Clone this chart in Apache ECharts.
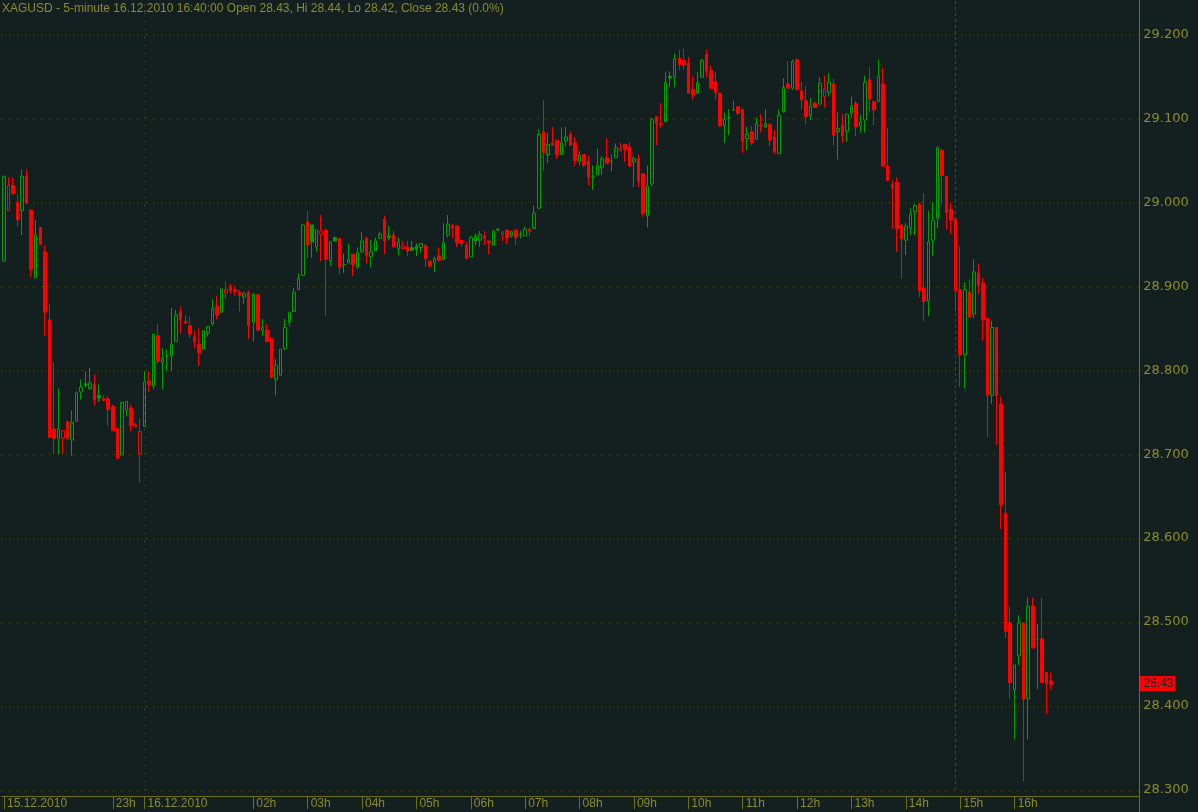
<!DOCTYPE html>
<html><head><meta charset="utf-8">
<script src="https://cdn.jsdelivr.net/npm/echarts@6/dist/echarts.min.js"></script>
<style>html,body{margin:0;padding:0;background:#141f1f;overflow:hidden;width:1198px;height:812px;position:relative}#c{position:absolute;left:0;top:-56px;width:1198px;height:868px}</style>
</head><body><div id="c"></div>
<script>
// 5-minute candles, XAGUSD 15.12.2010 21:00 -> 16.12.2010 16:40
const openP = [28.930,28.990,29.020,29.000,28.990,29.031,28.991,28.910,28.970,28.941,
28.860,28.730,28.719,28.719,28.739,28.717,28.739,28.774,28.784,28.778,
28.783,28.770,28.766,28.766,28.757,28.731,28.699,28.752,28.755,28.735,
28.700,28.733,28.787,28.781,28.841,28.809,28.817,28.817,28.834,28.870,
28.858,28.853,28.840,28.831,28.825,28.844,28.855,28.876,28.869,28.892,
28.900,28.896,28.893,28.887,28.893,28.857,28.890,28.847,28.848,28.838,
28.789,28.794,28.826,28.857,28.870,28.896,28.913,28.977,28.973,28.947,
28.962,28.967,28.930,28.958,28.957,28.926,28.928,28.938,28.922,28.941,
28.957,28.935,28.942,28.957,28.980,28.960,28.961,28.945,28.945,28.947,
28.946,28.948,28.946,28.949,28.930,28.928,28.936,28.932,28.961,28.972,
28.972,28.955,28.949,28.935,28.954,28.955,28.960,28.954,28.949,28.968,
28.961,28.967,28.960,28.967,28.961,28.960,28.968,28.969,28.993,29.084,
29.057,29.071,29.074,29.057,29.073,29.081,29.071,29.049,29.057,29.049,
29.031,29.033,29.042,29.053,29.049,29.053,29.061,29.069,29.066,29.048,
29.052,29.034,28.984,29.022,29.102,29.094,29.096,29.150,29.149,29.172,
29.169,29.166,29.134,29.130,29.149,29.176,29.157,29.144,29.130,29.091,
29.101,29.110,29.114,29.111,29.076,29.084,29.075,29.092,29.090,29.093,
29.078,29.058,29.108,29.141,29.136,29.170,29.133,29.121,29.103,29.118,
29.117,29.126,29.131,29.141,29.084,29.092,29.085,29.107,29.118,29.091,
29.098,29.146,29.120,29.120,29.141,29.043,29.021,29.024,28.973,28.955,
28.969,28.989,28.998,28.898,28.882,28.955,28.981,29.062,29.031,28.992,
28.980,28.896,28.819,28.893,28.867,28.916,28.904,28.862,28.770,28.851,
28.760,28.630,28.499,28.419,28.460,28.499,28.409,28.519,28.480,28.480,
28.440,28.430];
const highP = [29.031,29.030,29.030,29.010,29.039,29.039,28.991,28.979,28.970,28.949,
28.879,28.809,28.779,28.728,28.739,28.752,28.775,28.789,28.799,28.803,
28.795,28.783,28.770,28.769,28.759,28.731,28.762,28.763,28.759,28.737,
28.742,28.799,28.799,28.843,28.855,28.826,28.825,28.874,28.872,28.876,
28.866,28.864,28.847,28.850,28.848,28.852,28.885,28.889,28.897,28.906,
28.903,28.900,28.896,28.894,28.895,28.891,28.890,28.861,28.855,28.838,
28.813,28.825,28.861,28.869,28.898,28.915,28.974,28.990,28.973,28.967,
28.985,28.967,28.954,28.959,28.957,28.939,28.951,28.938,28.946,28.965,
28.959,28.955,28.958,28.965,28.984,28.972,28.966,28.958,28.954,28.954,
28.954,28.951,28.951,28.949,28.930,28.935,28.946,28.975,28.985,28.974,
28.972,28.955,28.953,28.960,28.963,28.966,28.966,28.954,28.967,28.969,
28.965,28.967,28.965,28.967,28.966,28.971,28.970,28.996,29.087,29.122,
29.083,29.090,29.074,29.089,29.090,29.085,29.078,29.061,29.057,29.056,
29.044,29.064,29.055,29.077,29.057,29.070,29.071,29.069,29.072,29.055,
29.057,29.034,29.044,29.100,29.103,29.118,29.155,29.156,29.177,29.182,
29.183,29.173,29.150,29.155,29.171,29.182,29.163,29.155,29.130,29.107,
29.111,29.121,29.114,29.111,29.090,29.091,29.101,29.105,29.111,29.093,
29.086,29.111,29.148,29.168,29.170,29.171,29.143,29.138,29.124,29.120,
29.149,29.151,29.154,29.147,29.107,29.105,29.105,29.126,29.121,29.104,
29.151,29.161,29.120,29.170,29.160,29.089,29.026,29.030,28.974,28.975,
28.993,28.998,29.000,29.011,28.990,29.000,29.067,29.064,29.031,29.000,
28.980,28.948,28.905,28.908,28.932,28.927,28.910,28.862,28.859,28.851,
28.769,28.679,28.518,28.449,28.508,28.499,28.529,28.529,28.498,28.529,
28.440,28.440];
const lowP = [28.930,28.990,29.010,28.971,28.961,28.999,28.911,28.910,28.950,28.841,
28.719,28.700,28.700,28.700,28.717,28.698,28.739,28.765,28.779,28.778,
28.758,28.762,28.763,28.734,28.728,28.695,28.699,28.745,28.727,28.733,
28.666,28.733,28.774,28.777,28.808,28.777,28.799,28.799,28.834,28.844,
28.856,28.838,28.826,28.805,28.825,28.840,28.853,28.861,28.869,28.885,
28.891,28.889,28.870,28.879,28.837,28.834,28.846,28.841,28.834,28.791,
28.770,28.794,28.824,28.852,28.870,28.896,28.913,28.933,28.934,28.942,
28.930,28.865,28.924,28.953,28.914,28.916,28.928,28.912,28.922,28.941,
28.927,28.922,28.942,28.957,28.938,28.955,28.947,28.937,28.945,28.936,
28.942,28.936,28.940,28.923,28.922,28.917,28.929,28.932,28.958,28.957,
28.947,28.947,28.933,28.935,28.949,28.947,28.949,28.938,28.949,28.966,
28.954,28.950,28.958,28.949,28.957,28.960,28.960,28.969,28.993,29.037,
29.047,29.068,29.052,29.057,29.067,29.068,29.043,29.044,29.042,29.020,
29.015,29.033,29.033,29.046,29.037,29.053,29.061,29.048,29.043,29.018,
29.018,28.983,28.970,29.019,29.068,29.089,29.096,29.137,29.137,29.157,
29.158,29.130,29.122,29.129,29.148,29.149,29.135,29.122,29.090,29.071,
29.080,29.109,29.104,29.059,29.062,29.068,29.075,29.083,29.089,29.067,
29.057,29.058,29.107,29.136,29.134,29.134,29.111,29.093,29.098,29.113,
29.117,29.113,29.126,29.068,29.051,29.071,29.072,29.101,29.079,29.083,
29.083,29.107,29.092,29.120,29.043,29.026,28.968,28.941,28.909,28.937,
28.961,28.961,28.887,28.858,28.864,28.936,28.969,28.997,28.968,28.962,
28.870,28.780,28.778,28.863,28.862,28.891,28.835,28.720,28.760,28.711,
28.611,28.481,28.409,28.360,28.449,28.310,28.360,28.469,28.420,28.428,
28.390,28.420];
const closeP = [29.031,29.020,29.010,28.979,29.031,28.999,28.920,28.961,28.950,28.869,
28.720,28.719,28.730,28.728,28.719,28.738,28.773,28.780,28.782,28.785,
28.765,28.767,28.764,28.753,28.728,28.695,28.762,28.763,28.734,28.733,
28.727,28.786,28.783,28.843,28.811,28.814,28.817,28.831,28.866,28.860,
28.856,28.843,28.834,28.821,28.847,28.852,28.873,28.866,28.897,28.896,
28.895,28.894,28.889,28.891,28.853,28.891,28.848,28.851,28.834,28.791,
28.806,28.825,28.851,28.869,28.893,28.909,28.973,28.949,28.953,28.967,
28.966,28.932,28.953,28.954,28.923,28.926,28.932,28.926,28.940,28.954,
28.937,28.941,28.954,28.962,28.954,28.958,28.947,28.953,28.948,28.942,
28.943,28.944,28.951,28.933,28.924,28.933,28.931,28.952,28.974,28.969,
28.952,28.951,28.933,28.958,28.960,28.962,28.957,28.952,28.966,28.967,
28.965,28.958,28.965,28.958,28.961,28.968,28.966,28.987,29.081,29.059,
29.069,29.068,29.057,29.071,29.078,29.068,29.050,29.056,29.044,29.030,
29.031,29.044,29.052,29.046,29.049,29.065,29.064,29.063,29.043,29.052,
29.025,28.987,29.019,29.099,29.094,29.093,29.143,29.148,29.171,29.164,
29.163,29.130,29.128,29.143,29.169,29.156,29.136,29.131,29.091,29.099,
29.101,29.110,29.106,29.073,29.081,29.071,29.094,29.091,29.094,29.074,
29.060,29.104,29.137,29.136,29.168,29.134,29.122,29.102,29.115,29.113,
29.142,29.135,29.143,29.080,29.088,29.079,29.105,29.115,29.090,29.095,
29.143,29.123,29.110,29.150,29.043,29.026,29.017,28.969,28.957,28.972,
28.986,28.996,28.895,28.882,28.953,28.978,29.065,29.032,28.988,28.979,
28.895,28.818,28.896,28.863,28.917,28.901,28.860,28.770,28.851,28.770,
28.640,28.489,28.428,28.449,28.499,28.408,28.519,28.469,28.480,28.428,
28.427,28.426];

// time-axis tick labels (category index -> text)
const tickIdx  = [0, 24, 31, 55, 67, 79, 91, 103, 115, 127, 139, 151, 163, 175, 187, 199, 211, 223];
const tickText = ['15.12.2010','23h','16.12.2010','02h','03h','04h','05h','06h','07h','08h','09h','10h','11h','12h','13h','14h','15h','16h'];
const dayStartIdx = 31;   // dotted day separator
const markerIdx = 210;    // red dashed marker
const yTicks = [28.3, 29.3, 0.1]; // min, max, step
const titleText = 'XAGUSD - 5-minute 16.12.2010 16:40:00 Open 28.43, Hi 28.44, Lo 28.42, Close 28.43 (0.0%)';
const lastLabel = '28.43';

const BG = '#141f1f', GREEN = '#00a000', RED = '#ff0000', OLIVE = '#8c8c2c', GRID = '#5e5e00', AXIS = '#6e6e14';
const SLOTS = 251;
const SHIFT = 56; // chart canvas starts 56px above the page

const cats = [];
for (let i = 0; i < SLOTS; i++) {
  const m = i < 31 ? 21 * 60 + 5 * i : 5 * (i - 31);
  const h = Math.floor(m / 60) % 24, mm = m % 60;
  cats.push((h < 10 ? '0' : '') + h + ':' + (mm < 10 ? '0' : '') + mm + '#' + i);
}
const tickMap = {};
tickIdx.forEach((k, j) => tickMap[k] = tickText[j]);

const data = openP.map((o, i) => {
  const c = closeP[i];
  const prev = i > 0 ? closeP[i - 1] : o;
  const col = c >= prev ? GREEN : RED;
  const fill = c > o ? BG : col;
  return {value: [o, c, lowP[i], highP[i]],
          itemStyle: {color: fill, color0: fill, borderColor: col, borderColor0: col, borderWidth: 1}};
});

const chart = echarts.init(document.getElementById('c'), null, {renderer: 'canvas'});
const GL = 1.73, GW = 4.532 * SLOTS, GT = 0.23, GH = 845.7;
const AXX = Math.round(GL + GW) + 0.5;
chart.setOption({
  backgroundColor: BG,
  animation: false,
  title: {text: titleText, left: 2, top: SHIFT + 3, padding: 0,
    textStyle: {color: OLIVE, fontSize: 12, fontWeight: 'normal', fontFamily: 'Liberation Sans'}},
  grid: {left: GL, top: GT, width: GW, height: GH, containLabel: false},
  xAxis: {
    type: 'category', data: cats, boundaryGap: true, offset: 6,
    axisLine: {show: true, lineStyle: {color: AXIS, width: 1}},
    axisTick: {show: true, alignWithLabel: true, length: 13,
      interval: (idx) => tickMap[idx] !== undefined, lineStyle: {color: AXIS}},
    axisLabel: {show: true, interval: (idx) => tickMap[idx] !== undefined,
      formatter: (v, idx) => tickMap[idx] || '', align: 'left', padding: [0, 0, 0, 3],
      margin: 2, color: OLIVE, fontSize: 12, fontFamily: 'Liberation Sans'},
    splitLine: {show: false}
  },
  yAxis: {
    type: 'value', position: 'right', min: yTicks[0], max: yTicks[1], interval: yTicks[2],
    axisLine: {show: false}, axisTick: {show: false},
    axisLabel: {formatter: (v) => v.toFixed(3), color: OLIVE, fontSize: 13, margin: 4,
      fontFamily: 'DejaVu Sans'},
    splitLine: {show: true, lineStyle: {color: GRID, type: [1, 7], width: 1}}
  },
  series: [{
    type: 'candlestick', data: data, barWidth: 3,
    markLine: {silent: true, symbol: ['none', 'none'], animation: false,
      data: [
        {xAxis: cats[dayStartIdx], lineStyle: {color: GRID, type: [1, 7], width: 1}, label: {show: false}},
        {xAxis: cats[markerIdx], lineStyle: {color: RED, type: [3, 3], width: 1, opacity: 0.8}, label: {show: false}}
      ]}
  }]
});
// last-price tag on the price axis, positioned through the axis scale
const yLast = chart.convertToPixel({yAxisIndex: 0}, closeP[closeP.length - 1]);
chart.setOption({
  graphic: [
    {type: 'line', silent: true, z: 10,
     shape: {x1: AXX, y1: 0, x2: AXX, y2: 900}, style: {stroke: AXIS, lineWidth: 1}},
    {type: 'rect', silent: true, z: 11,
     shape: {x: AXX + 0.5, y: Math.round(yLast) - 8, width: 35, height: 15},
     style: {fill: RED}},
    {type: 'text', silent: true, z: 12, x: AXX + 4, y: Math.round(yLast) - 0.5,
     style: {text: lastLabel, fill: '#202020', fontSize: 12, fontFamily: 'Liberation Sans',
       verticalAlign: 'middle', align: 'left'}}
  ]
});
</script></body></html>
